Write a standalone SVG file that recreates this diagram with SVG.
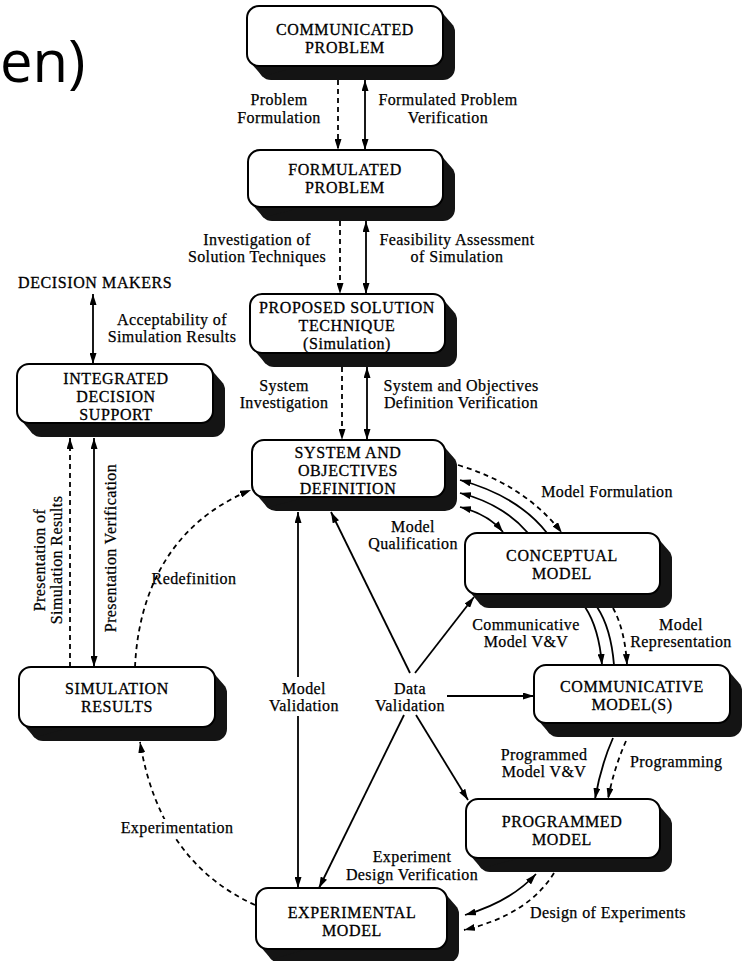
<svg xmlns="http://www.w3.org/2000/svg" width="742" height="961" viewBox="0 0 742 961">
  <style>
    .shadow { fill: #141414; }
    .box { fill: #ffffff; stroke: #000000; stroke-width: 2; }
    .t { font-family: "Liberation Serif", "Times New Roman", serif; font-size: 16px; fill: #000; stroke: #000; stroke-width: 0.3; text-anchor: middle; letter-spacing: 0.6px; }
    .lbl { font-family: "Liberation Serif", "Times New Roman", serif; font-size: 16px; fill: #000; stroke: #000; stroke-width: 0.25; text-anchor: middle; letter-spacing: 0.4px; }
    .ln { fill: none; stroke: #000; stroke-width: 1.8; }
    .dash { stroke-dasharray: 5 4; }
    .big { font-family: "Open Sans", "Noto Sans", sans-serif; font-size: 58px; fill: #000; }
    .bg { fill: #ffffff; }
  </style>
  <defs>
    <marker id="ah" viewBox="0 0 11 7" refX="11" refY="3.5" markerWidth="11" markerHeight="7" markerUnits="userSpaceOnUse" orient="auto-start-reverse">
      <path d="M0,0 L11,3.5 L0,7 z" fill="#000"/>
    </marker>
  </defs>

  <rect width="742" height="961" fill="#ffffff"/>

  <!-- slide title fragment -->
  <text class="big" x="0" y="82">en)</text>

  <!-- connectors -->
  <g id="connectors">
    <!-- central vertical chain -->
    <line class="ln dash" x1="338" y1="80" x2="338" y2="150" marker-end="url(#ah)"/>
    <line class="ln" x1="365" y1="80" x2="365" y2="150" marker-start="url(#ah)" marker-end="url(#ah)"/>
    <line class="ln dash" x1="340" y1="221" x2="340" y2="294" marker-end="url(#ah)"/>
    <line class="ln" x1="366" y1="221" x2="366" y2="294" marker-start="url(#ah)" marker-end="url(#ah)"/>
    <line class="ln dash" x1="342" y1="367" x2="342" y2="440" marker-end="url(#ah)"/>
    <line class="ln" x1="367" y1="367" x2="367" y2="440" marker-start="url(#ah)" marker-end="url(#ah)"/>

    <!-- decision support column -->
    <line class="ln" x1="93" y1="294" x2="93" y2="364" marker-start="url(#ah)" marker-end="url(#ah)"/>
    <line class="ln dash" x1="70" y1="667" x2="70" y2="438" marker-end="url(#ah)"/>
    <line class="ln" x1="94" y1="438" x2="94" y2="667" marker-start="url(#ah)" marker-end="url(#ah)"/>

    <!-- redefinition and experimentation arcs -->
    <path class="ln dash" d="M135,667 C138,600 165,525 251,490" marker-end="url(#ah)"/>
    <path class="ln dash" d="M255,905 Q160,862 140,742" marker-end="url(#ah)"/>

    <!-- model validation -->
    <line class="ln" x1="298" y1="677" x2="298" y2="512" marker-end="url(#ah)"/>
    <line class="ln" x1="298" y1="716" x2="298" y2="888" marker-end="url(#ah)"/>

    <!-- data validation spokes -->
    <line class="ln" x1="410" y1="673" x2="331" y2="512" marker-end="url(#ah)"/>
    <line class="ln" x1="415" y1="673" x2="474" y2="597" marker-end="url(#ah)"/>
    <line class="ln" x1="447" y1="696" x2="534" y2="696" marker-end="url(#ah)"/>
    <line class="ln" x1="416" y1="715" x2="468" y2="800" marker-end="url(#ah)"/>
    <line class="ln" x1="404" y1="715" x2="319" y2="888" marker-end="url(#ah)"/>

    <!-- system definition to conceptual model -->
    <path class="ln dash" d="M458,465 Q525,485 562,533" marker-end="url(#ah)"/>
    <path class="ln" d="M547,533 Q518,496 460,480" marker-end="url(#ah)"/>
    <path class="ln" d="M528,533 Q503,504 460,493" marker-end="url(#ah)"/>
    <path class="ln" d="M460,507 Q488,514 503,532" marker-start="url(#ah)" marker-end="url(#ah)"/>

    <!-- conceptual to communicative -->
    <path class="ln" d="M585,607 Q599,628 602,665" marker-end="url(#ah)"/>
    <path class="ln" d="M597,607 Q611,628 614,665"/>
    <path class="ln dash" d="M613,608 Q625,630 627,665" marker-end="url(#ah)"/>

    <!-- communicative to programmed -->
    <path class="ln" d="M613,738 Q601,765 595,799" marker-end="url(#ah)"/>
    <path class="ln dash" d="M626,741 Q614,768 608,799" marker-end="url(#ah)"/>

    <!-- programmed to experimental -->
    <path class="ln" d="M536,874 Q510,902 465,915" marker-start="url(#ah)" marker-end="url(#ah)"/>
    <path class="ln dash" d="M554,873 Q528,915 464,930" marker-end="url(#ah)"/>
  </g>

  <!-- connector labels -->
  <g id="labels">
    <text class="lbl" x="279" y="105">Problem</text>
    <text class="lbl" x="279" y="123">Formulation</text>
    <text class="lbl" x="448" y="105">Formulated Problem</text>
    <text class="lbl" x="448" y="123">Verification</text>
    <text class="lbl" x="257" y="245">Investigation of</text>
    <text class="lbl" x="257" y="262">Solution Techniques</text>
    <text class="lbl" x="457" y="245">Feasibility Assessment</text>
    <text class="lbl" x="457" y="262">of Simulation</text>
    <text class="lbl" x="172" y="325">Acceptability of</text>
    <text class="lbl" x="172" y="342">Simulation Results</text>
    <text class="lbl" x="284" y="391">System</text>
    <text class="lbl" x="284" y="408">Investigation</text>
    <text class="lbl" x="461" y="391">System and Objectives</text>
    <text class="lbl" x="461" y="408">Definition Verification</text>
    <text class="lbl" x="607" y="497">Model Formulation</text>
    <text class="lbl" x="413" y="532">Model</text>
    <text class="lbl" x="413" y="549">Qualification</text>
    <text class="lbl" x="194" y="584">Redefinition</text>
    <text class="lbl" x="526" y="630">Communicative</text>
    <text class="lbl" x="526" y="647">Model V&amp;V</text>
    <text class="lbl" x="681" y="630">Model</text>
    <text class="lbl" x="681" y="647">Representation</text>
    <text class="lbl" x="304" y="694">Model</text>
    <text class="lbl" x="304" y="711">Validation</text>
    <text class="lbl" x="410" y="694">Data</text>
    <text class="lbl" x="410" y="711">Validation</text>
    <text class="lbl" x="544" y="760">Programmed</text>
    <text class="lbl" x="544" y="777">Model V&amp;V</text>
    <text class="lbl" x="630" y="767" style="text-anchor:start">Programming</text>
    <rect class="bg" x="122" y="819" width="112" height="18"/>
    <text class="lbl" x="177" y="833">Experimentation</text>
    <text class="lbl" x="412" y="862">Experiment</text>
    <text class="lbl" x="412" y="880">Design Verification</text>
    <text class="lbl" x="608" y="918">Design of Experiments</text>
    <g transform="translate(0,560) rotate(-90)">
      <text class="lbl" x="0" y="45">Presentation of</text>
      <text class="lbl" x="0" y="62">Simulation Results</text>
    </g>
    <text class="lbl" transform="translate(116,548) rotate(-90)" x="0" y="0">Presentation Verification</text>
  </g>

  <!-- nodes -->
  <g id="communicated-problem">
    <rect class="shadow" x="259" y="20" width="196" height="60" rx="12"/>
    <polygon class="shadow" points="439.5,9.5 451.5,23.5 262.5,76.5 250.5,62.5"/>
    <rect class="box" x="247" y="6" width="196" height="60" rx="12"/>
    <text class="t" x="345" y="35">COMMUNICATED</text>
    <text class="t" x="345" y="53">PROBLEM</text>
  </g>

  <g id="formulated-problem">
    <rect class="shadow" x="260" y="164" width="195" height="57" rx="12"/>
    <polygon class="shadow" points="439.5,153.5 451.5,167.5 263.5,217.5 251.5,203.5"/>
    <rect class="box" x="248" y="150" width="195" height="57" rx="12"/>
    <text class="t" x="345" y="175">FORMULATED</text>
    <text class="t" x="345" y="193">PROBLEM</text>
  </g>

  <g id="proposed-solution-technique">
    <rect class="shadow" x="262" y="308" width="195" height="59" rx="12"/>
    <polygon class="shadow" points="441.5,297.5 453.5,311.5 265.5,363.5 253.5,349.5"/>
    <rect class="box" x="250" y="294" width="195" height="59" rx="12"/>
    <text class="t" x="347" y="313">PROPOSED SOLUTION</text>
    <text class="t" x="347" y="331">TECHNIQUE</text>
    <text class="t" x="347" y="349">(Simulation)</text>
  </g>

  <g id="decision-makers">
    <text class="t" x="18" y="288" style="text-anchor:start">DECISION MAKERS</text>
  </g>

  <g id="integrated-decision-support">
    <rect class="shadow" x="29" y="378" width="196" height="59" rx="12"/>
    <polygon class="shadow" points="209.5,367.5 221.5,381.5 32.5,433.5 20.5,419.5"/>
    <rect class="box" x="17" y="364" width="196" height="59" rx="12"/>
    <text class="t" x="116" y="384">INTEGRATED</text>
    <text class="t" x="116" y="402">DECISION</text>
    <text class="t" x="116" y="420">SUPPORT</text>
  </g>

  <g id="system-objectives-definition">
    <rect class="shadow" x="264" y="454" width="193" height="57" rx="12"/>
    <polygon class="shadow" points="441.5,443.5 453.5,457.5 267.5,507.5 255.5,493.5"/>
    <rect class="box" x="252" y="440" width="193" height="57" rx="12"/>
    <text class="t" x="348" y="458">SYSTEM AND</text>
    <text class="t" x="348" y="476">OBJECTIVES</text>
    <text class="t" x="348" y="494">DEFINITION</text>
  </g>

  <g id="conceptual-model">
    <rect class="shadow" x="477" y="547" width="195" height="61" rx="12"/>
    <polygon class="shadow" points="656.5,536.5 668.5,550.5 480.5,604.5 468.5,590.5"/>
    <rect class="box" x="465" y="533" width="195" height="61" rx="12"/>
    <text class="t" x="562" y="561">CONCEPTUAL</text>
    <text class="t" x="562" y="579">MODEL</text>
  </g>

  <g id="simulation-results">
    <rect class="shadow" x="31" y="681" width="196" height="60" rx="12"/>
    <polygon class="shadow" points="211.5,670.5 223.5,684.5 34.5,737.5 22.5,723.5"/>
    <rect class="box" x="19" y="667" width="196" height="60" rx="12"/>
    <text class="t" x="117" y="694">SIMULATION</text>
    <text class="t" x="117" y="712">RESULTS</text>
  </g>

  <g id="communicative-models">
    <rect class="shadow" x="546" y="679" width="196" height="58" rx="12"/>
    <polygon class="shadow" points="726.5,668.5 738.5,682.5 549.5,733.5 537.5,719.5"/>
    <rect class="box" x="534" y="665" width="196" height="58" rx="12"/>
    <text class="t" x="632" y="692">COMMUNICATIVE</text>
    <text class="t" x="632" y="710">MODEL(S)</text>
  </g>

  <g id="programmed-model">
    <rect class="shadow" x="478" y="813" width="194" height="59" rx="12"/>
    <polygon class="shadow" points="656.5,802.5 668.5,816.5 481.5,868.5 469.5,854.5"/>
    <rect class="box" x="466" y="799" width="194" height="59" rx="12"/>
    <text class="t" x="562" y="827">PROGRAMMED</text>
    <text class="t" x="562" y="845">MODEL</text>
  </g>

  <g id="experimental-model">
    <rect class="shadow" x="268" y="902" width="191" height="61" rx="12"/>
    <polygon class="shadow" points="443.5,891.5 455.5,905.5 271.5,959.5 259.5,945.5"/>
    <rect class="box" x="256" y="888" width="191" height="61" rx="12"/>
    <text class="t" x="352" y="918">EXPERIMENTAL</text>
    <text class="t" x="352" y="936">MODEL</text>
  </g>
</svg>
